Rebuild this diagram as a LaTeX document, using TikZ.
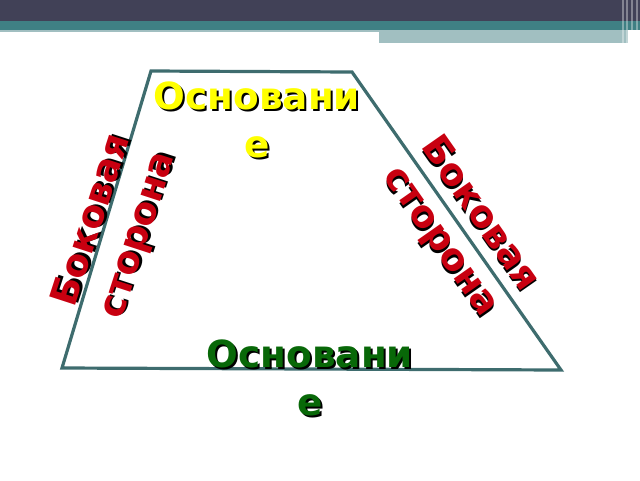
\documentclass[tikz,border=0pt]{standalone}
\usepackage{fontspec}
\setmainfont{DejaVu Sans}

\definecolor{barDark}{RGB}{65,65,87}
\definecolor{barTeal}{RGB}{63,128,132}
\definecolor{barLight}{RGB}{161,191,193}
\definecolor{edgeTeal}{RGB}{62,108,110}
\definecolor{baseYellow}{RGB}{255,255,0}
\definecolor{baseGreen}{RGB}{8,104,8}
\definecolor{sideRed}{RGB}{200,0,16}

\tikzset{
    edge line/.style={draw=edgeTeal, line width=2.4pt},
    label text/.style={inner sep=0pt, align=center,
        font=\fontsize{28}{36}\selectfont\bfseries},
}

\newcommand{\shadowlabel}[5]{%
    \node[label text, rotate=#4, text=black, xshift=1.5pt, yshift=-1.5pt] (#1-shadow) at (#2) {#5};
    \node[label text, rotate=#4, text=#3] (#1) at (#2) {#5};
}

\begin{document}
\begin{tikzpicture}[x=0.75pt, y=-0.75pt]
        \useasboundingbox (0,0) rectangle (640,480);
        % top bar
        \fill[barDark]  (0,0)   rectangle (640,21);
        \fill[barTeal]  (0,21)  rectangle (640,30);
        \fill[barLight] (0,30)  rectangle (379,32);
        \fill[barLight] (379,30) rectangle (628,43);
        \foreach \x in {622,626,631,636}
            \fill[white, opacity=0.35] (\x,0) rectangle (\x+1.5,43);

        \coordinate (tl) at (151, 71);
        \coordinate (tr) at (352, 72);
        \coordinate (br) at (561, 370);
        \coordinate (bl) at (62, 368);
        \draw[edge line] (tl) -- (tr) -- (br) -- (bl) -- cycle;

        \coordinate (top base)   at (257, 120);
        \coordinate (bottom base) at (310, 378);
        \coordinate (left side)  at (116, 228);
        \coordinate (right side) at (460, 228);

        \shadowlabel{topname}{top base}{baseYellow}{0}{Основани\\е}
        \shadowlabel{bottomname}{bottom base}{baseGreen}{0}{Основани\\е}
        \shadowlabel{leftname}{left side}{sideRed}{72}{Боковая\\сторона}
        \shadowlabel{rightname}{right side}{sideRed}{-55}{Боковая\\сторона}
    \end{tikzpicture}
\end{document}
